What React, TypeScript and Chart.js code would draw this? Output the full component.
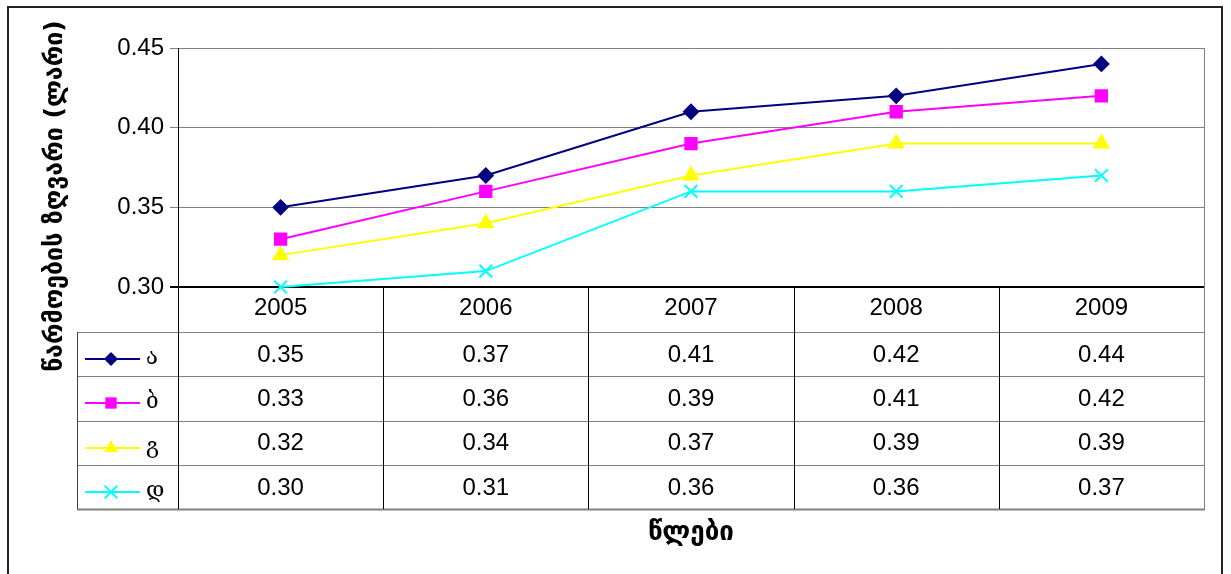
import React, { useEffect, useRef } from 'react';
import { Chart, registerables } from 'chart.js';

Chart.register(...registerables);

// ---- data ----
const years = ['2005', '2006', '2007', '2008', '2009'];
const seriesNames = ['ა', 'ბ', 'გ', 'დ'];
const seriesA = [0.35, 0.37, 0.41, 0.42, 0.44];
const seriesB = [0.33, 0.36, 0.39, 0.41, 0.42];
const seriesG = [0.32, 0.34, 0.37, 0.39, 0.39];
const seriesD = [0.3, 0.31, 0.36, 0.36, 0.37];
const yMin = 0.3;
const yMax = 0.45;
const yStep = 0.05;
const yTitle = 'წარმოების ზღვარი (ლარი)';
const xTitle = 'წლები';

// ---- styles ----
const seriesValues = [seriesA, seriesB, seriesG, seriesD];
const seriesStyles = [
  { color: '#000080', point: 'rectRot', radius: 7 },
  { color: '#FF00FF', point: 'rect', radius: 8 },
  { color: '#FFFF00', point: 'triangle', radius: 8 },
  { color: '#00FFFF', point: 'crossRot', radius: 9 },
];

const NUM_FAMILY = '"Liberation Sans", Arial, sans-serif';
const NUM_FONT = '24px ' + NUM_FAMILY;
const GEO_FONT = '22px "DejaVu Serif", serif';
const YTITLE_FONT = 'bold 25px "DejaVu Sans", sans-serif';
const XTITLE_FONT = 'bold 26px "DejaVu Sans", sans-serif';
const GRAY = '#808080';

const HEADER_BOTTOM = 332;
const TABLE_BOTTOM = 509;
const LEGEND_LEFT = 77;

function drawMarker(ctx: CanvasRenderingContext2D, style: string, x: number, y: number, r: number, color: string) {
  ctx.save();
  ctx.fillStyle = color;
  ctx.strokeStyle = color;
  ctx.lineWidth = 2;
  ctx.beginPath();
  if (style === 'rectRot') {
    ctx.moveTo(x - r, y);
    ctx.lineTo(x, y - r);
    ctx.lineTo(x + r, y);
    ctx.lineTo(x, y + r);
    ctx.closePath();
    ctx.fill();
  } else if (style === 'rect') {
    const s = Math.SQRT1_2 * r;
    ctx.rect(x - s, y - s, 2 * s, 2 * s);
    ctx.fill();
  } else if (style === 'triangle') {
    for (let i = 0; i < 3; i++) {
      const a = (i * 2 * Math.PI) / 3;
      const px = x + Math.sin(a) * r;
      const py = y - Math.cos(a) * r;
      if (i === 0) ctx.moveTo(px, py);
      else ctx.lineTo(px, py);
    }
    ctx.closePath();
    ctx.fill();
  } else {
    const d = Math.SQRT1_2 * r;
    ctx.moveTo(x - d, y - d);
    ctx.lineTo(x + d, y + d);
    ctx.moveTo(x + d, y - d);
    ctx.lineTo(x - d, y + d);
    ctx.stroke();
  }
  ctx.restore();
}

const tablePlugin = {
  id: 'dataTable',
  afterDraw(chart: any) {
    const ctx: CanvasRenderingContext2D = chart.ctx;
    const area = chart.chartArea;
    const xs = chart.scales.x;
    const n = years.length;
    const colW = (area.right - area.left) / n;
    const rows = seriesValues.length;
    const rowH = (TABLE_BOTTOM - HEADER_BOTTOM) / rows;

    ctx.save();
    // plot area right border
    ctx.strokeStyle = GRAY;
    ctx.lineWidth = 1;
    ctx.beginPath();
    ctx.moveTo(area.right + 0.5, area.top);
    ctx.lineTo(area.right + 0.5, TABLE_BOTTOM);
    ctx.stroke();

    // horizontal table lines
    ctx.strokeStyle = GRAY;
    for (let i = 0; i <= rows; i++) {
      const y = Math.round(HEADER_BOTTOM + i * rowH) + 0.5;
      ctx.lineWidth = i === rows ? 2 : 1;
      ctx.beginPath();
      ctx.moveTo(LEGEND_LEFT, y);
      ctx.lineTo(area.right + 1, y);
      ctx.stroke();
    }
    // legend column left edge
    ctx.lineWidth = 1;
    ctx.strokeStyle = '#404040';
    ctx.beginPath();
    ctx.moveTo(LEGEND_LEFT + 0.5, HEADER_BOTTOM);
    ctx.lineTo(LEGEND_LEFT + 0.5, TABLE_BOTTOM);
    ctx.stroke();

    // vertical column lines
    ctx.strokeStyle = '#000';
    for (let i = 0; i < n; i++) {
      const x = Math.round(area.left + i * colW) + 0.5;
      ctx.beginPath();
      ctx.moveTo(x, i === 0 ? area.top : area.bottom);
      ctx.lineTo(x, TABLE_BOTTOM);
      ctx.stroke();
    }

    // header years
    ctx.fillStyle = '#000';
    ctx.font = NUM_FONT;
    ctx.textAlign = 'center';
    ctx.textBaseline = 'middle';
    years.forEach((yr, i) => {
      ctx.fillText(yr, xs.getPixelForValue(i), 308);
    });

    // values and legend
    seriesValues.forEach((vals, r) => {
      const top = HEADER_BOTTOM + r * rowH;
      const cy = top + rowH / 2;
      ctx.font = NUM_FONT;
      ctx.textAlign = 'center';
      ctx.textBaseline = 'middle';
      ctx.fillStyle = '#000';
      vals.forEach((v, i) => {
        ctx.fillText(v.toFixed(2), xs.getPixelForValue(i), cy + 1);
      });
      const st = seriesStyles[r];
      const ly = Math.round(cy + 5);
      ctx.strokeStyle = st.color;
      ctx.lineWidth = 2;
      ctx.beginPath();
      ctx.moveTo(85, ly);
      ctx.lineTo(140, ly);
      ctx.stroke();
      drawMarker(ctx, st.point, 111, ly, st.radius, st.color);
      ctx.font = GEO_FONT;
      ctx.fillStyle = '#000';
      ctx.textAlign = 'left';
      ctx.textBaseline = 'alphabetic';
      ctx.fillText(seriesNames[r], 146, cy + 10);
    });

    // axis titles
    ctx.fillStyle = '#000';
    ctx.textAlign = 'center';
    ctx.textBaseline = 'middle';
    ctx.font = XTITLE_FONT;
    ctx.fillText(xTitle, (area.left + area.right) / 2, 533);

    ctx.save();
    ctx.font = YTITLE_FONT;
    ctx.translate(55, 196);
    ctx.rotate(-Math.PI / 2);
    ctx.fillText(yTitle, 0, 0);
    ctx.restore();

    // outer border
    ctx.strokeStyle = '#222';
    ctx.lineWidth = 2;
    ctx.strokeRect(8, 7, 1214, 580);
    ctx.restore();
  },
};

export default function App() {
  const ref = useRef<HTMLCanvasElement | null>(null);

  useEffect(() => {
    if (!ref.current) return;
    const chart = new Chart(ref.current, {
      type: 'line',
      data: {
        labels: years,
        datasets: seriesValues.map((vals, i) => ({
          label: seriesNames[i],
          data: vals,
          borderColor: seriesStyles[i].color,
          backgroundColor: seriesStyles[i].color,
          borderWidth: 2,
          pointStyle: seriesStyles[i].point as any,
          pointRadius: seriesStyles[i].radius,
          pointHoverRadius: seriesStyles[i].radius,
          pointBorderWidth: 2,
          pointBackgroundColor: seriesStyles[i].color,
          pointBorderColor: seriesStyles[i].color,
          tension: 0,
          clip: false as any,
        })),
      },
      options: {
        animation: false,
        responsive: true,
        maintainAspectRatio: false,
        events: [],
        layout: { padding: { left: 0, top: 48, right: 27, bottom: 287 } },
        plugins: {
          legend: { display: false },
          tooltip: { enabled: false },
          title: { display: false },
        },
        scales: {
          x: {
            type: 'category',
            display: false,
            offset: true,
          },
          y: {
            min: yMin,
            max: yMax,
            afterFit: (scale: any) => {
              scale.width = 178;
            },
            ticks: {
              stepSize: yStep,
              color: '#000',
              padding: 6,
              font: { size: 24, family: NUM_FAMILY },
              callback: (v: any) => Number(v).toFixed(2),
            },
            grid: {
              tickLength: 8,
              color: (c: any) => (c.tick && Math.abs(c.tick.value - yMin) < 1e-9 ? '#000' : GRAY),
              lineWidth: (c: any) => (c.tick && Math.abs(c.tick.value - yMin) < 1e-9 ? 2 : 1),
            },
            border: { display: true, color: '#000', width: 1 },
          },
        },
      },
      plugins: [tablePlugin],
    });
    return () => chart.destroy();
  }, []);

  return (
    <div style={{ position: 'fixed', left: 0, top: 0, width: 1231, height: 574, background: '#fff' }}>
      <canvas ref={ref} />
    </div>
  );
}
